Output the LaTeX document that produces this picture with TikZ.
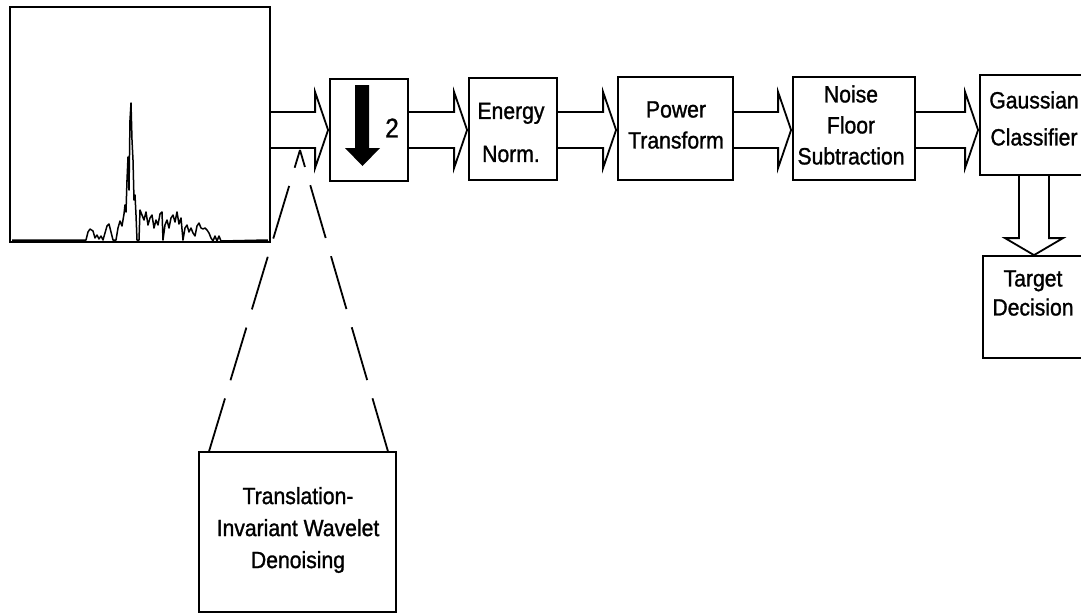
\documentclass[tikz,border=0pt]{standalone}
\usepackage{fontspec}
\setmainfont{Liberation Sans}[FakeStretch=0.9,FakeBold=1.2]
\usetikzlibrary{calc}
\newcommand\blockarrow[2]{%
  \draw[blk] let \p1=(#1.east), \p2=(#2.west) in
    (\x1,-112pt) -- (\x2-14pt,-112pt) -- (\x2-14pt,-92pt) -- (\x2-1pt,-130pt)
    -- (\x2-14pt,-168pt) -- (\x2-14pt,-148pt) -- (\x1,-148pt);}
\begin{document}
\begin{tikzpicture}[x=1pt,y=-1pt,line join=miter,
  box/.style={draw,line width=1.8pt,inner sep=0pt},
  lbl/.style={align=center,inner sep=0pt,font=\fontsize{23.5}{31}\selectfont},
  blk/.style={draw,line width=1.8pt,line join=miter},
  cone/.style={line width=1.8pt,dash pattern=on 55pt off 19pt},
  sigline/.style={line width=1.5pt,line join=round}]
\useasboundingbox (0,0) rectangle (1081,613);
\clip (0,0) rectangle (1081,613);

% boxes
\node[box,minimum width=260pt,minimum height=235pt] (sig) at (140,124.5) {};
\node[box,minimum width=78pt,minimum height=102pt] (ds) at (369,130) {};
\node[box,minimum width=88pt,minimum height=102pt] (en) at (513,129) {};
\node[box,minimum width=115pt,minimum height=103pt] (pw) at (675.5,128.5) {};
\node[box,minimum width=122pt,minimum height=103pt] (nf) at (854,128.5) {};
\node[box,minimum width=108pt,minimum height=100pt] (gc) at (1034,125) {};
\node[box,minimum width=102pt,minimum height=102pt] (td) at (1034,307) {};
\node[box,minimum width=197pt,minimum height=160pt] (wv) at (297.5,532) {};

% texts
\node[lbl,font=\fontsize{23.5}{43}\selectfont] (ent) at (511,132.5) {Energy\\Norm.};
\node[lbl,font=\fontsize{23.5}{31}\selectfont] (pwt) at (676,125) {Power\\Transform};
\node[lbl,font=\fontsize{23.5}{31}\selectfont] (nft) at (851,125) {Noise\\Floor\\Subtraction};
\node[lbl,font=\fontsize{23.5}{37}\selectfont] (gct) at (1034,118.5) {Gaussian\\Classifier};
\node[lbl,font=\fontsize{23.5}{29}\selectfont] (tdt) at (1033,293) {Target\\Decision};
\node[lbl,font=\fontsize{23.5}{32}\selectfont] (wvt) at (298,530) {Translation-\\Invariant Wavelet\\Denoising};
\node[inner sep=0pt,font=\fontsize{27}{30}\selectfont] (two) at (392,128) {2};

% thick down arrow in the downsampling box
\fill (355,85) -- (369,85) -- (369,148) -- (380,148) -- (362.5,166) -- (345,148) -- (355,148) -- cycle;

% signal
\draw[sigline] (12,240) -- (86,240) -- (88,232) -- (90,229) -- (93,231) -- (95,238) -- (97,235) -- (99,239)
 -- (101,236) -- (103,240) -- (105,233) -- (107,226) -- (109,224) -- (111,232) -- (113,240) -- (116,240)
 -- (118,228) -- (120,221) -- (122,226) -- (124,214) -- (125,205) -- (126,212) -- (127,180) -- (128,157)
 -- (129,190) -- (130,120) -- (131,103) -- (132,140) -- (133,160) -- (134,200) -- (135,195) -- (136,215)
 -- (137,240) -- (139,240) -- (140,210) -- (142,215) -- (144,220) -- (146,212) -- (148,225) -- (150,218)
 -- (152,215) -- (154,228) -- (156,220) -- (158,225) -- (160,214) -- (162,212) -- (163,240) -- (165,225)
 -- (167,220) -- (169,228) -- (171,218) -- (173,215) -- (175,222) -- (177,212) -- (179,224) -- (181,218)
 -- (183,240) -- (185,228) -- (187,225) -- (189,232) -- (191,228) -- (193,233) -- (195,236) -- (197,226)
 -- (199,223) -- (201,228) -- (203,229) -- (205,228) -- (207,230) -- (209,233) -- (211,238) -- (213,241)
 -- (215,236) -- (217,241) -- (219,236) -- (221,241) -- (268,240);

% block arrows
\blockarrow{sig}{ds}
\blockarrow{ds}{en}
\blockarrow{en}{pw}
\blockarrow{pw}{nf}
\blockarrow{nf}{gc}
\draw[blk] let \p1=(gc.south), \p2=(td.north) in
  (\x1-15pt,\y1) -- (\x1-15pt,\y2+17pt) -- (\x1-29pt,\y2+17pt) -- (\x1,\y2)
  -- (\x1+29pt,\y2+17pt) -- (\x1+15pt,\y2+17pt) -- (\x1+15pt,\y1);

% zoom cone
\coordinate (apex) at (300,150);
\draw[cone] ([xshift=11pt]wv.north west) -- (apex);
\draw[cone] ([xshift=-9pt]wv.north east) -- (apex);
\end{tikzpicture}
\end{document}
